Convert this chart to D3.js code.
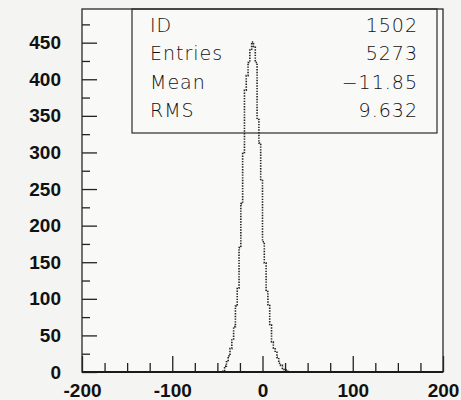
<!DOCTYPE html>
<html>
<head>
<meta charset="utf-8">
<script src="https://cdn.jsdelivr.net/npm/d3@7"></script>
<style>
  html, body { margin: 0; padding: 0; background: #f4f4f2; }
  svg { display: block; }
  .tick text { font-family: "Liberation Sans", Arial, sans-serif; font-weight: bold; font-size: 19px; fill: #111; }
  .stats text { font-family: "DejaVu Sans", sans-serif; font-weight: 200; font-size: 19px; fill: #111; letter-spacing: 1px; }
</style>
</head>
<body>
<svg id="chart" width="461" height="400"></svg>
<script>
// Histogram 1502: bin lower edges (width 2) and contents
const binWidth = 2;
const binEdges = [-44, -42, -40, -38, -36, -34, -32, -30, -28, -26, -24, -22, -20, -18, -16, -14, -12, -10,
                  -8, -6, -4, -2, 0, 2, 4, 6, 8, 10, 12, 14, 16, 18, 20, 22, 24, 26];
const binCounts = [2, 8, 14, 22, 32, 45, 62, 90, 115, 170, 230, 300, 385, 405, 423, 440, 451, 445,
                   423, 345, 313, 263, 178, 149, 110, 92, 64, 41, 33, 27, 20, 12, 9, 5, 3, 1];

// Axis ranges and ticks
const xDomain = [-200, 200];
const yDomain = [0, 496];
const xMajorTicks = [-200, -100, 0, 100, 200];
const xTickLabels = ["-200", "-100", "0", "100", "200"];
const xMinorStep = 25;
const yMajorTicks = [0, 50, 100, 150, 200, 250, 300, 350, 400, 450];
const yTickLabels = ["0", "50", "100", "150", "200", "250", "300", "350", "400", "450"];
const yMinorStep = 25;

// Statistics box
const statNames = ["ID", "Entries", "Mean", "RMS"];
const statValues = ["1502", "5273", "\u221211.85", "9.632"];

const svg = d3.select("#chart");
const frame = { left: 82, right: 443, top: 9, bottom: 372 };

const x = d3.scaleLinear().domain(xDomain).range([frame.left, frame.right]);
const y = d3.scaleLinear().domain(yDomain).range([frame.bottom, frame.top]);

// plot area
svg.append("rect")
  .attr("x", frame.left).attr("y", frame.top)
  .attr("width", frame.right - frame.left).attr("height", frame.bottom - frame.top)
  .attr("fill", "#f9f9f8");

// histogram outline as a dotted step line
const pts = [[binEdges[0], 0]];
binEdges.forEach((e, i) => {
  pts.push([e, binCounts[i]]);
  pts.push([e + binWidth, binCounts[i]]);
});
pts.push([binEdges[binEdges.length - 1] + binWidth, 0]);

svg.append("path")
  .datum(pts)
  .attr("fill", "none")
  .attr("stroke", "#222")
  .attr("stroke-width", 1.6)
  .attr("stroke-dasharray", "1.4 1.3")
  .attr("d", d3.line().x(d => x(d[0])).y(d => y(d[1])));

// minor ticks
const xMinor = d3.range(xDomain[0], xDomain[1] + 1, xMinorStep).filter(v => !xMajorTicks.includes(v));
const yMinor = d3.range(yMinorStep, yDomain[1], yMinorStep).filter(v => !yMajorTicks.includes(v));

const axisStyle = g => {
  g.select(".domain").remove();
  g.selectAll(".tick line").attr("stroke", "#222").attr("stroke-width", 1.3);
};

svg.append("g")
  .attr("transform", `translate(0,${frame.bottom})`)
  .call(d3.axisBottom(x).tickValues(xMinor).tickSize(-9).tickFormat(""))
  .call(axisStyle);

svg.append("g")
  .attr("transform", `translate(0,${frame.bottom})`)
  .call(d3.axisBottom(x).tickValues(xMajorTicks).tickSize(-16).tickPadding(12)
    .tickFormat((d, i) => xTickLabels[i]))
  .call(axisStyle);

svg.append("g")
  .attr("transform", `translate(${frame.left},0)`)
  .call(d3.axisLeft(y).tickValues(yMinor).tickSize(-8).tickFormat(""))
  .call(axisStyle);

svg.append("g")
  .attr("transform", `translate(${frame.left},0)`)
  .call(d3.axisLeft(y).tickValues(yMajorTicks).tickSize(-15).tickPadding(21)
    .tickFormat((d, i) => yTickLabels[i]))
  .call(axisStyle);

// frame
svg.append("rect")
  .attr("x", frame.left).attr("y", frame.top)
  .attr("width", frame.right - frame.left).attr("height", frame.bottom - frame.top)
  .attr("fill", "none").attr("stroke", "#2a2a2a").attr("stroke-width", 1.3);
svg.append("line")
  .attr("x1", frame.left).attr("x2", frame.right)
  .attr("y1", frame.bottom).attr("y2", frame.bottom)
  .attr("stroke", "#1a1a1a").attr("stroke-width", 2);

// statistics box
const box = { left: 132, right: 437, top: 9, bottom: 133 };
const stats = svg.append("g").attr("class", "stats");
stats.append("rect")
  .attr("x", box.left).attr("y", box.top)
  .attr("width", box.right - box.left).attr("height", box.bottom - box.top)
  .attr("fill", "none").attr("stroke", "#2a2a2a").attr("stroke-width", 1.2);

const rowY = d3.scalePoint().domain(statNames).range([32, 117]);
stats.selectAll("text.name")
  .data(statNames).join("text")
  .attr("class", "name")
  .attr("x", 150).attr("y", d => rowY(d))
  .text(d => d);
stats.selectAll("text.value")
  .data(statValues).join("text")
  .attr("class", "value")
  .attr("x", 418).attr("y", (d, i) => rowY(statNames[i]))
  .attr("text-anchor", "end")
  .text(d => d);
</script>
</body>
</html>
